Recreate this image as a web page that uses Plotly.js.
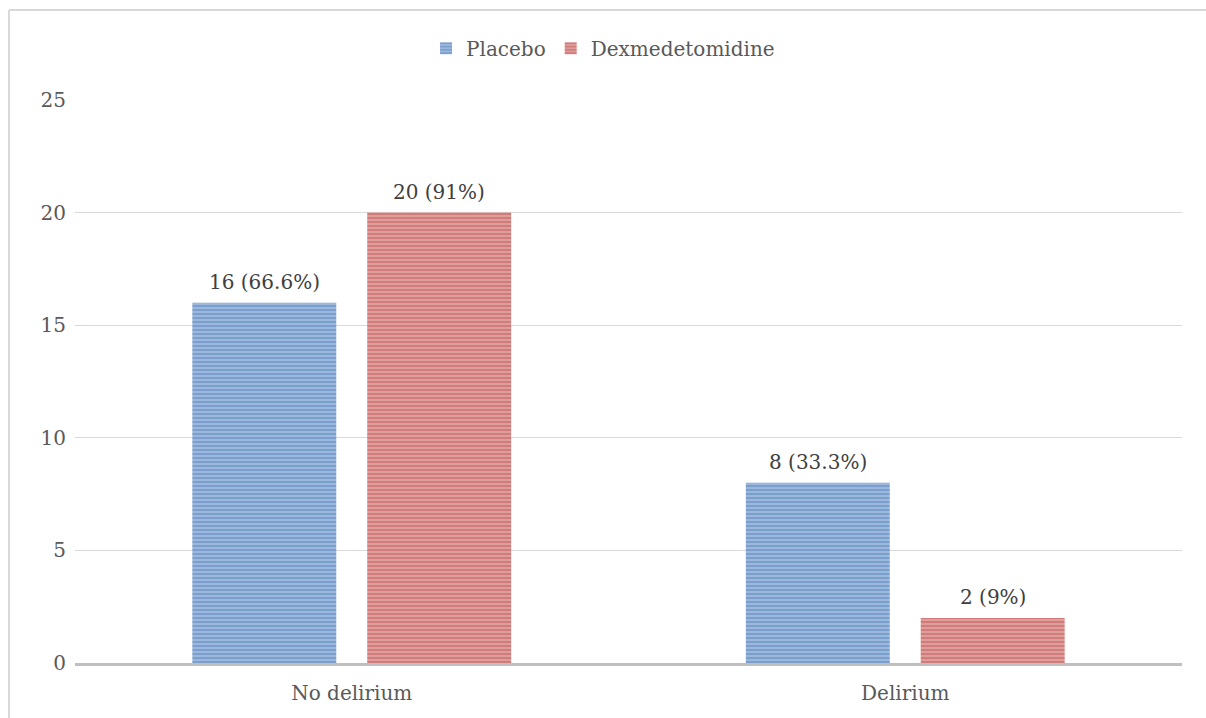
<!DOCTYPE html>
<html>
<head>
<meta charset="utf-8">
<script src="https://cdn.plot.ly/plotly-3.0.1.min.js"></script>
<style>html,body{margin:0;padding:0;background:#fff;}#chart{width:1206px;height:718px;}</style>
</head>
<body>
<div id="chart"></div>
<script>
const categories = ["No delirium", "Delirium"];
const placeboValues = [16, 8];
const placeboLabels = ["16 (66.6%)", "8 (33.3%)"];
const dexValues = [20, 2];
const dexLabels = ["20 (91%)", "2 (9%)"];
const yTicks = [0, 5, 10, 15, 20, 25];

const fontFam = "DejaVu Serif, Liberation Serif, serif";
const seriesList = [
  {name: "Placebo", values: placeboValues, labels: placeboLabels, fg: "#4677b8", bg: "#b0c7e3"},
  {name: "Dexmedetomidine", values: dexValues, labels: dexLabels, fg: "#bd4845", bg: "#e5b1b0"}
];

const traces = seriesList.map(s => ({
  type: "bar", name: s.name, x: categories, y: s.values,
  text: s.labels, textposition: "none", hoverinfo: "skip",
  marker: {color: s.fg, line: {width: 0},
    pattern: {shape: "-", fgcolor: s.fg, bgcolor: s.bg, size: 4, solidity: 0.7, fillmode: "overlay"}}
}));

const layout = {
  width: 1206, height: 718,
  margin: {l: 75, r: 24, t: 100, b: 55},
  paper_bgcolor: "#ffffff", plot_bgcolor: "#ffffff",
  font: {family: fontFam, size: 20, color: "#595959"},
  barmode: "group", bargap: 0.368, bargroupgap: 0.177,
  showlegend: true,
  legend: {orientation: "h", x: 0.477, xanchor: "center", y: 1.092, yanchor: "middle",
    font: {family: fontFam, size: 20, color: "#595959"}, itemwidth: 30},
  xaxis: {type: "category", showgrid: false, showline: true, linecolor: "#bfbfbf", linewidth: 3,
    ticks: "", ticklabelstandoff: 10, tickfont: {family: fontFam, size: 20, color: "#595959"}, fixedrange: true},
  yaxis: {range: [0, 25], tickvals: yTicks, showgrid: true, gridcolor: "#d9d9d9", gridwidth: 1,
    zeroline: false, showline: false, ticks: "", ticklabelstandoff: 8,
    tickfont: {family: fontFam, size: 20, color: "#595959"}, fixedrange: true},
  shapes: [
    {type: "line", xref: "paper", yref: "paper", x0: -0.0596, x1: -0.0596, y0: -0.2, y1: 1.1599,
      line: {color: "#d9d9d9", width: 2}},
    {type: "line", xref: "paper", yref: "paper", x0: -0.0596, x1: 1.05, y0: 1.1599, y1: 1.1599,
      line: {color: "#d9d9d9", width: 2}}
  ],
  annotations: []
};

// data labels placed above each bar, positioned from the library's own grouped-bar offsets
Plotly.newPlot("chart", traces, layout, {displayModeBar: false, staticPlot: true}).then(gd => {
  const anns = [];
  gd.calcdata.forEach((cd, ti) => {
    const t = cd[0].t;
    cd.forEach((pt, i) => {
      const off = Array.isArray(t.poffset) ? t.poffset[i] : t.poffset;
      const bw = Array.isArray(t.barwidth) ? t.barwidth[i] : t.barwidth;
      anns.push({
        xref: "x", yref: "y", x: pt.p + off + bw / 2, y: seriesList[ti].values[i],
        text: seriesList[ti].labels[i], showarrow: false,
        xanchor: "center", yanchor: "bottom", yshift: 7,
        font: {family: fontFam, size: 20, color: "#404040"}
      });
    });
  });
  Plotly.relayout(gd, {annotations: anns});
});
</script>
</body>
</html>
